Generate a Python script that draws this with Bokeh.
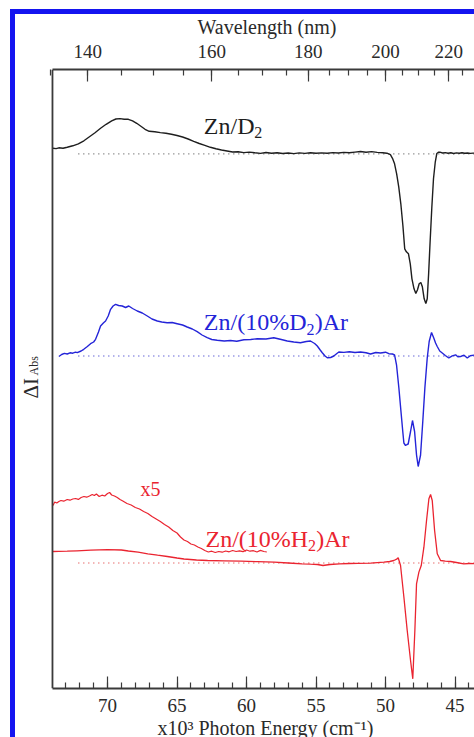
import math
from bokeh.plotting import figure
from bokeh.models import (Range1d, LinearAxis, FixedTicker, SingleIntervalTicker,
                          CustomJSTickFormatter, Label, Span, Title)
from bokeh.embed import file_html
from bokeh.resources import INLINE

# ---------------- data (x in 10^3 cm^-1, ΔI in arbitrary units) ----------------
x_view_start, x_start, x_end = 76.62, 73.96, 43.24
y_min, y_max = 0, 619

offset_black = 534.7
offset_blue = 332.5
offset_red = 125.5
baseline_from = 72.1

black_nu = [73.92, 73.7, 73.5, 73.2, 72.9, 72.5, 72.1, 71.7, 71.3, 70.9, 70.5, 70.1, 69.7, 69.4,
            69.1, 68.8, 68.5, 68.2, 67.9, 67.6, 67.3, 67.0, 66.6, 66.2, 65.8, 65.4, 65.0, 64.6,
            64.2, 63.8, 63.4, 63.0, 62.6, 62.2, 61.8, 61.4, 61.0, 60.6, 60.2, 59.8, 59.4, 59.0,
            58.6, 58.2, 57.8, 57.4, 57.0, 56.6, 56.2, 55.8, 55.4, 55.0, 54.6, 54.2, 53.8, 53.4,
            53.0, 52.6, 52.2, 51.8, 51.4, 51.0, 50.6, 50.2, 49.9, 49.65, 49.5, 49.35, 49.2, 49.05,
            48.9, 48.75, 48.62, 48.5, 48.35, 48.22, 48.1, 47.95, 47.82, 47.7, 47.58, 47.46, 47.35,
            47.22, 47.1, 47.0, 46.9, 46.8, 46.67, 46.55, 46.42, 46.31, 46.2, 46.09, 45.9, 45.7,
            45.5, 45.3, 45.1, 44.9, 44.7, 44.5, 44.3, 44.1, 43.9, 43.7, 43.5]
black_di = [5.5, 5.2, 6.0, 5.6, 6.6, 8.0, 10.0, 13.0, 17.0, 21.0, 25.5, 29.5, 33.0, 34.8,
            35.2, 34.6, 34.5, 33.0, 30.5, 27.5, 24.5, 22.5, 22.0, 21.2, 20.5, 19.5, 18.3, 16.8,
            14.8, 12.5, 10.3, 8.5, 6.5, 5.0, 3.8, 2.8, 1.8, 2.0, 1.2, 1.7, 1.0, 0.4,
            1.3, 0.6, 1.1, 0.3, 0.8, 0.2, 0.9, 0.4, 1.0, 0.5, 0.9, 0.6, 1.2, 0.8,
            1.4, 1.0, 1.7, 2.3, 1.5, 2.2, 1.4, 1.0, 0.6, -0.8, -4.5, -10.0, -20.0, -33.0,
            -50.0, -72.0, -95.0, -98.0, -100.0, -110.0, -125.0, -135.0, -139.7, -136.0, -130.0, -128.7, -133.0,
            -145.0, -149.7, -145.0, -120.0, -90.0, -53.7, -25.0, -8.0, 0.3, 1.5, 1.6, 0.8, 1.2,
            0.5, 1.0, 0.3, 0.9, 0.5, 1.1, 0.6, 0.8, 0.4, 0.7, 0.5]

blue_nu = [73.50, 73.3, 73.1, 72.9, 72.7, 72.5, 72.3, 72.18, 71.9, 71.71, 71.45, 71.22, 71.0, 70.86,
           70.65, 70.5, 70.3, 70.14, 69.95, 69.78, 69.6, 69.42, 69.2, 68.94, 68.7, 68.47, 68.2, 67.86,
           67.5, 67.14, 66.8, 66.42, 66.1, 65.71, 65.35, 64.99, 64.6, 64.27, 63.9, 63.55, 63.2, 62.83,
           62.5, 62.11, 61.6, 61.15, 60.7, 60.19, 59.7, 59.23, 58.6, 58.04, 57.5, 57.07, 56.6, 56.12,
           55.7, 55.4, 55.1, 54.91, 54.7, 54.55, 54.35, 54.19, 53.95, 53.72, 53.5, 53.36, 53.0, 52.6,
           52.2, 51.8, 51.4, 51.08, 50.7, 50.36, 50.0, 49.76, 49.5, 49.35, 49.21, 49.04, 48.87, 48.76,
           48.68, 48.56, 48.45, 48.37, 48.2, 48.06, 47.91, 47.77, 47.65, 47.48, 47.32, 47.17, 47.0,
           46.86, 46.69, 46.53, 46.4, 46.28, 46.1, 45.92, 45.7, 45.45, 45.2, 44.96, 44.8, 44.6,
           44.35, 44.12, 43.9, 43.5]
blue_di = [-0.5, 1.5, 2.6, 2.0, 3.2, 2.8, 3.8, 3.3, 5.0, 6.7, 9.5, 12.3, 14.0, 16.7,
           24.0, 30.0, 33.0, 35.0, 40.0, 46.7, 50.0, 51.7, 50.5, 50.0, 48.5, 50.0, 47.5, 45.0,
           43.0, 40.0, 37.0, 35.0, 34.0, 33.3, 33.5, 32.3, 31.0, 29.0, 27.0, 24.3, 21.0, 18.3,
           16.5, 15.7, 15.0, 15.5, 14.8, 16.2, 16.5, 17.3, 17.0, 18.3, 16.5, 15.0, 14.0, 13.3,
           14.5, 15.0, 12.5, 10.0, 6.0, 3.3, 0.0, -1.7, -1.5, 0.0, 2.5, 4.0, 3.6, 4.2,
           3.5, 4.0, 3.2, 2.0, 3.5, 3.0, 3.8, 2.3, 2.0, 1.2, -8.8, -32.0, -58.5, -75.5,
           -87.0, -89.5, -88.5, -88.0, -75.5, -64.5, -75.5, -99.0, -110.5, -99.0, -65.5, -32.0, -2.0,
           14.5, 23.5, 18.0, 13.0, 9.5, 5.0, 3.0, 0.5, -2.0, 0.2, 1.2, -0.8, -0.5,
           0.8, -2.0, 0.3, 1.2]

red_nu = [73.92, 73.5, 72.9, 72.2, 71.2, 70.0, 69.0, 68.5, 67.8, 67.1, 66.4, 65.7, 65.0, 64.5,
          63.6, 62.8, 61.6, 60.4, 59.2, 58.0, 57.0, 56.0, 55.4, 54.9, 54.5, 54.0, 53.3, 52.6,
          52.0, 51.08, 50.6, 50.12, 49.7, 49.40, 49.2, 49.09, 48.92, 48.68, 48.44, 48.20, 48.04,
          47.89, 47.77, 47.60, 47.43, 47.24, 47.05, 46.88, 46.76, 46.64, 46.47, 46.28, 46.04,
          45.7, 45.32, 44.9, 44.37, 44.0, 43.5]
red_di = [11.5, 11.7, 11.8, 12.2, 12.8, 13.4, 13.0, 12.0, 10.8, 9.2, 7.8, 6.5, 5.0, 4.0,
          3.0, 2.5, 2.2, 1.8, 1.3, 0.8, 0.0, -0.8, -1.2, -1.5, -2.5, -1.5, -0.8, -0.5,
          -0.3, -0.2, 0.3, 0.8, 1.5, 2.5, 3.8, 5.2, -2.5, -34.0, -67.5, -97.5, -115.8,
          -67.5, -20.8, -9.1, -2.5, 15.8, 42.5, 64.2, 68.5, 62.5, 32.5, 9.2, 2.5,
          1.8, 1.5, 0.5, -0.8, -0.5, -0.8]

red_x5_nu = [73.92, 73.8, 73.65, 73.5, 73.35, 73.15, 72.9, 72.7, 72.5, 72.3, 72.1, 71.9, 71.7, 71.5,
             71.3, 71.1, 70.95, 70.8, 70.6, 70.4, 70.2, 70.0, 69.85, 69.7, 69.5, 69.3, 69.1, 68.9,
             68.6, 68.3, 68.0, 67.7, 67.4, 67.1, 66.8, 66.5, 66.2, 65.9, 65.6, 65.3, 65.0, 64.75,
             64.5, 64.25, 64.0, 63.75, 63.5, 63.25, 63.0, 62.75, 62.5, 62.25, 62.0, 61.75, 61.5,
             61.25, 61.0, 60.75, 60.5, 60.25, 60.0, 59.75, 59.5, 59.25, 59.0, 58.75, 58.54]
red_x5_di = [57.5, 61.0, 60.0, 61.5, 62.5, 61.8, 63.5, 62.8, 64.0, 64.5, 63.6, 65.5, 66.5, 65.8,
             67.0, 68.5, 67.5, 69.0, 66.5, 67.8, 67.0, 69.5, 70.5, 68.0, 67.0, 65.5, 63.5, 62.0,
             59.5, 58.0, 55.5, 54.0, 51.5, 49.5, 46.5, 44.0, 41.5, 38.5, 36.0, 32.5, 30.0, 26.0,
             23.0, 21.5, 19.0, 18.0, 16.0, 14.5, 12.5, 11.0, 11.8, 10.5, 11.5, 10.8, 12.0,
             11.2, 12.5, 11.5, 12.2, 11.3, 13.0, 11.8, 12.3, 11.0, 12.6, 11.5, 11.0]

energy_major_step = 5
wavelength_major = [140, 160, 180, 200, 220]
wavelength_minor = [w for w in range(135, 240, 5)]

# ---------------- styling ----------------
FONT = "Liberation Serif"
AXC = "#3a3a3a"
TXT = "#2a2a2a"
BLACK = "#1e1e1e"
BLUE = "#2424d8"
RED = "#ea2430"

# the host element uses border-box sizing: 5 px of the size go to the blue frame strip
p = figure(width=464, height=728, output_backend="svg", toolbar_location=None,
           x_range=Range1d(x_view_start, x_end), y_range=Range1d(y_min, y_max),
           x_axis_location=None, y_axis_location=None,
           min_border_left=0, min_border_right=0, min_border_top=55, min_border_bottom=54)
p.margin = (9, 0, 0, 10)
p.styles = {"border-left": "5px solid #1414f0", "border-top": "5px solid #1414f0"}
p.outline_line_color = None
p.background_fill_color = "white"
p.border_fill_color = "white"
p.xgrid.visible = False
p.ygrid.visible = False


def style_axis(ax):
    ax.bounds = (x_end, x_start)
    ax.axis_line_color = AXC
    ax.axis_line_width = 1.8
    ax.major_tick_line_color = AXC
    ax.minor_tick_line_color = AXC
    ax.major_tick_line_width = 1.2
    ax.minor_tick_line_width = 1.2
    ax.major_tick_in = 12
    ax.major_tick_out = 0
    ax.minor_tick_in = 6
    ax.minor_tick_out = 0
    ax.major_label_text_font = FONT
    ax.major_label_text_font_size = "19px"
    ax.major_label_text_color = TXT


def side_title(text, offset, valign, standoff):
    return Title(text=text, align="left", offset=offset, standoff=standoff, vertical_align=valign,
                 text_font=FONT, text_font_size="20px", text_font_style="normal",
                 text_color=TXT)


bottom = LinearAxis(ticker=SingleIntervalTicker(interval=energy_major_step, num_minor_ticks=5))
style_axis(bottom)
bottom.major_label_standoff = 10
p.add_layout(bottom, "below")
p.add_layout(side_title("x10³  Photon Energy (cm⁻¹)", 142, "top", 4), "below")

top_major = [1e4 / w for w in wavelength_major]
top_minor = [1e4 / w for w in wavelength_minor]
top = LinearAxis(ticker=FixedTicker(ticks=top_major, minor_ticks=top_minor),
                 formatter=CustomJSTickFormatter(code="return String(Math.round(10000 / tick));"))
style_axis(top)
top.major_label_standoff = 12
p.add_layout(top, "above")
p.add_layout(side_title("Wavelength (nm)", 182, "top", 3), "above")

# left frame line (the y axis carries no ticks or numbers)
p.add_layout(Span(location=x_start, dimension="height", line_color=AXC, line_width=1.8))

# baselines (dotted)
for off, col in [(offset_black, "#666666"), (offset_blue, "#6a6ad8"), (offset_red, "#e87070")]:
    p.line([baseline_from, x_end], [off, off], line_color=col, line_width=1.3, line_dash="1 4")

p.line(black_nu, [offset_black + v for v in black_di], line_color=BLACK, line_width=1.4)
p.line(blue_nu, [offset_blue + v for v in blue_di], line_color=BLUE, line_width=1.4)
p.line(red_nu, [offset_red + v for v in red_di], line_color=RED, line_width=1.3)
p.line(red_x5_nu, [offset_red + v for v in red_x5_di], line_color=RED, line_width=1.2)


def lab(text, x, y, size, color, units="data", angle=0.0, align="left", baseline="alphabetic"):
    p.add_layout(Label(x=x, y=y, x_units=units, y_units=units, text=text, angle=angle,
                       text_font=FONT, text_font_size=f"{size}px", text_color=color,
                       text_align=align, text_baseline=baseline))


# curve labels (data coordinates)
lab("Zn/D", 63.07, 563, 24, BLACK)
lab("2", 59.45, 556.3, 16, BLACK)

lab("Zn/(10%D", 63.07, 366.7, 24, BLUE)
lab("2", 55.68, 359.3, 16, BLUE)
lab(")Ar", 55.10, 366.7, 24, BLUE)

lab("x5", 67.63, 199.7, 20, RED)
lab("Zn/(10%H", 62.95, 150, 24, RED)
lab("2", 55.57, 143.3, 16, RED)
lab(")Ar", 54.99, 150, 24, RED)

# y-axis title (screen units relative to the frame's lower-left corner)
lab("ΔI", 15, 290, 21, TXT, units="screen", angle=math.pi / 2)
lab("Abs", 18, 313, 12, TXT, units="screen", angle=math.pi / 2)

open("out.html", "w").write(file_html(p, INLINE))
